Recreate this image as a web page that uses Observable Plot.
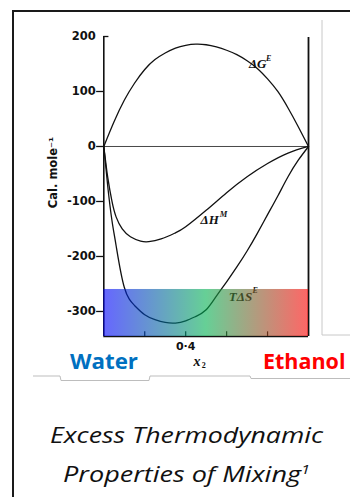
<!DOCTYPE html>
<html><head><meta charset="utf-8">
<script src="https://cdn.jsdelivr.net/npm/d3@7"></script>
<script src="https://cdn.jsdelivr.net/npm/@observablehq/plot@0.6"></script>
<style>
html,body{margin:0;padding:0;background:#fff;}
#wrap{position:relative;width:350px;height:497px;overflow:hidden;background:#fff;}
#wrap svg{position:absolute;left:0;top:0;}
</style></head><body>
<div id="wrap"></div>
<script>
// mole fraction of ethanol x2 and values in cal/mole
const gX = [0, 0.05, 0.1, 0.15, 0.2, 0.25, 0.3, 0.35, 0.4, 0.45, 0.5, 0.55, 0.6, 0.65, 0.7, 0.75, 0.8, 0.85, 0.9, 0.95, 1.0];
const gY = [0, 45, 84, 115, 140, 158, 170, 179, 184, 186, 185, 181, 175, 167, 156, 142, 123, 100, 70, 36, 0];
const hX = [0, 0.01, 0.02, 0.04, 0.06, 0.09, 0.13, 0.18, 0.22, 0.28, 0.35, 0.4, 0.5, 0.6, 0.7, 0.8, 0.9, 1];
const hY = [0, -30, -58, -100, -128, -150, -164, -172, -173, -168, -157, -146, -116, -84, -55, -31, -12, 0];
const sX = [0, 0.02, 0.04, 0.06, 0.1, 0.15, 0.2, 0.25, 0.3, 0.35, 0.4, 0.45, 0.5, 0.55, 0.6, 0.65, 0.7, 0.75, 0.8, 0.85, 0.9, 0.95, 1];
const sY = [0, -75, -135, -180, -256, -289, -306, -315, -320, -321, -317, -309, -297, -272, -246, -219, -190, -158, -124, -90, -55, -25, 0];
const yTicks = [200, 100, 0, -100, -200, -300];
const xTicks = [0.2, 0.4, 0.6, 0.8];
const xLabels = ["0·4"];
const xLabelAt = [0.4];
const xDomain = [0, 1];
const yDomain = [-345.5, 200];
const band = [-345.5, -260];

const pts = (X, Y) => X.map((x, i) => ({x, y: Y[i]}));
const lineOpts = {x: "x", y: "y", curve: "natural", stroke: "#111", strokeWidth: 1.3};
const labFont = {fontFamily: "Liberation Serif", fontStyle: "italic", fontWeight: "bold", fill: "#111"};

const plot = Plot.plot({
  width: 350, height: 497,
  marginTop: 36, marginBottom: 161, marginLeft: 103.3, marginRight: 42,
  x: {domain: xDomain, axis: null},
  y: {domain: yDomain, axis: null},
  style: {fontFamily: "DejaVu Sans", background: "transparent", overflow: "visible"},
  marks: [
    Plot.ruleY([0], {x1: 0, x2: 1, stroke: "#333", strokeWidth: 0.9}),
    Plot.line(pts(gX, gY), lineOpts),
    Plot.line(pts(hX, hY), lineOpts),
    Plot.line(pts(sX, sY), lineOpts),
    Plot.text(["ΔG"], {x: 0.709, y: 150, text: d => d, textAnchor: "start", fontSize: 13, ...labFont}),
    Plot.text(["E"], {x: 0.792, y: 161, text: d => d, textAnchor: "start", fontSize: 8, ...labFont}),
    Plot.text(["ΔH"], {x: 0.473, y: -133, text: d => d, textAnchor: "start", fontSize: 13, ...labFont}),
    Plot.text(["M"], {x: 0.566, y: -124, text: d => d, textAnchor: "start", fontSize: 8.5, ...labFont}),
    Plot.text(["TΔS"], {x: 0.611, y: -273, text: d => d, textAnchor: "start", fontSize: 13, ...labFont}),
    Plot.text(["E"], {x: 0.727, y: -262, text: d => d, textAnchor: "start", fontSize: 8, ...labFont}),
    // axes frame
    Plot.ruleX([0], {y1: yDomain[0], y2: 200, stroke: "#111", strokeWidth: 1.6}),
    Plot.ruleX([1], {y1: yDomain[0], y2: 198, stroke: "#111", strokeWidth: 1.8}),
    Plot.ruleY([yDomain[0]], {x1: 0, x2: 1, stroke: "#111", strokeWidth: 1.6}),
    Plot.ruleY(yTicks.filter(d => d < 200), {x1: -0.035, x2: 0, stroke: "#111", strokeWidth: 1.3}),
    Plot.ruleY([200], {x1: 0, x2: 0.025, stroke: "#111", strokeWidth: 1.3}),
    Plot.ruleX(xTicks, {y1: yDomain[0], y2: yDomain[0] + 8.5, stroke: "#111", strokeWidth: 1.2}),
    Plot.axisY({ticks: yTicks, tickSize: 0, tickPadding: 8, tickFormat: d => String(d), fontSize: 11.5, fontWeight: "bold", fill: "#111", label: null}),
    Plot.text(xLabels, {x: (d, i) => xLabelAt[i], y: yDomain[0], dy: 10, text: d => d, fontSize: 11, fontWeight: "bold", fill: "#111"}),
    Plot.text(["x"], {x: 0.455, y: yDomain[0], dy: 25, text: d => d, fontSize: 14, ...labFont}),
    Plot.text(["2"], {x: 0.488, y: yDomain[0], dy: 29, text: d => d, fontSize: 8, fontFamily: "Liberation Serif", fontWeight: "bold", fill: "#111"}),
    Plot.text(["Cal. mole⁻¹"], {frameAnchor: "left", textAnchor: "middle", dx: -50, dy: -14, rotate: -90, text: d => d, fontSize: 11.5, fontWeight: "bold", fill: "#111"}),
    // gradient band on top
    Plot.rect([0], {x1: 0, x2: 1, y1: band[0], y2: band[1], fill: "url(#mixgrad)", fillOpacity: 0.6})
  ]
});

const ns = "http://www.w3.org/2000/svg";
const defs = document.createElementNS(ns, "defs");
defs.innerHTML = '<linearGradient id="mixgrad" x1="0" y1="0" x2="1" y2="0">' +
  '<stop offset="0" stop-color="#0000ff"/><stop offset="0.5" stop-color="#00b050"/><stop offset="1" stop-color="#ff0000"/></linearGradient>';
plot.insertBefore(defs, plot.firstChild);

const wrap = document.getElementById("wrap");
// decorations and texts around the figure
const deco = document.createElementNS(ns, "svg");
deco.setAttribute("width", 350); deco.setAttribute("height", 497);
deco.innerHTML =
  '<path d="M13,497 V11 H352" fill="none" stroke="#1a1a1a" stroke-width="2"/>' +
  '<path d="M322,20 V335 H352" fill="none" stroke="#c8c8c8" stroke-width="1"/>' +
  '<path d="M33,376 H60 L61,380.5 H149 L150,376 H250 L251,378.5 H352" fill="none" stroke="#bdbdbd" stroke-width="1"/>' +
  '<text x="70" y="369" font-family="Open Sans" font-weight="bold" font-size="21.5" fill="#0070c0" textLength="68" lengthAdjust="spacingAndGlyphs">Water</text>' +
  '<text x="263" y="369" font-family="Open Sans" font-weight="bold" font-size="21.5" fill="#ff0000">Ethanol</text>' +
  '<text x="50" y="443" font-family="Open Sans" font-style="italic" font-size="21.5" fill="#111" textLength="273" lengthAdjust="spacingAndGlyphs">Excess Thermodynamic</text>' +
  '<text x="63" y="482" font-family="Open Sans" font-style="italic" font-size="21.5" fill="#111" textLength="247" lengthAdjust="spacingAndGlyphs">Properties of Mixing<tspan font-size="13" dy="-8">1</tspan></text>';
wrap.appendChild(deco);
wrap.appendChild(plot);
</script>
</body></html>
